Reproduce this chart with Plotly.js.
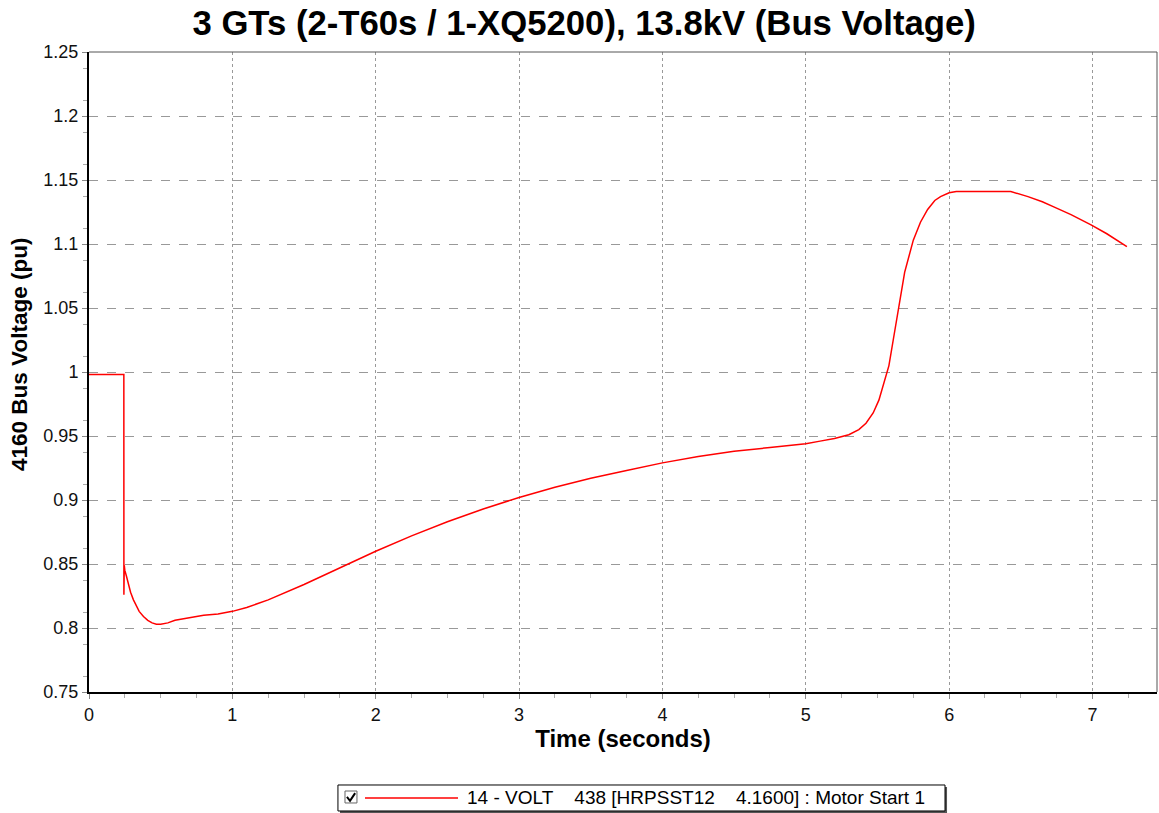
<!DOCTYPE html>
<html><head><meta charset="utf-8">
<script src="https://cdn.plot.ly/plotly-3.0.1.min.js"></script>
<style>body{margin:0;background:#fff}#chart{width:1159px;height:813px}</style>
</head><body><div id="chart"></div>
<script>
const timeSec = [0, 0.243, 0.2435, 0.246, 0.25, 0.26, 0.27, 0.29, 0.31, 0.33, 0.35, 0.38, 0.41, 0.44, 0.47, 0.5, 0.55, 0.6, 0.7, 0.8, 0.9, 1.0, 1.1, 1.25, 1.5, 1.75, 2.0, 2.25, 2.5, 2.75, 3.0, 3.25, 3.5, 3.75, 4.0, 4.25, 4.5, 4.75, 5.0, 5.1, 5.2, 5.3, 5.37, 5.42, 5.47, 5.51, 5.54, 5.58, 5.61, 5.65, 5.69, 5.75, 5.8, 5.85, 5.9, 5.94, 6.0, 6.05, 6.2, 6.35, 6.43, 6.55, 6.65, 6.73, 6.85, 6.99, 7.1, 7.24];
const busVoltage = [0.998, 0.998, 0.826, 0.849, 0.845, 0.841, 0.836, 0.828, 0.822, 0.817, 0.813, 0.809, 0.806, 0.804, 0.803, 0.803, 0.804, 0.806, 0.808, 0.810, 0.811, 0.813, 0.816, 0.822, 0.834, 0.847, 0.860, 0.872, 0.883, 0.893, 0.902, 0.910, 0.917, 0.923, 0.929, 0.934, 0.938, 0.941, 0.944, 0.946, 0.948, 0.951, 0.955, 0.960, 0.968, 0.978, 0.990, 1.005, 1.025, 1.051, 1.078, 1.103, 1.117, 1.127, 1.134, 1.137, 1.140, 1.141, 1.141, 1.141, 1.141, 1.137, 1.133, 1.129, 1.123, 1.115, 1.108, 1.098];
const seriesName = "14 - VOLT\u00a0\u00a0\u00a0\u00a0438 [HRPSST12\u00a0\u00a0\u00a0\u00a04.1600] : Motor Start 1";
const yTicks = [0.75, 0.8, 0.85, 0.9, 0.95, 1, 1.05, 1.1, 1.15, 1.2, 1.25];
const yTickText = ["0.75", "0.8", "0.85", "0.9", "0.95", "1", "1.05", "1.1", "1.15", "1.2", "1.25"];
const xTicks = [0, 1, 2, 3, 4, 5, 6, 7];

const font = "Arial, 'Liberation Sans', sans-serif";
const lineColor = "#ff0000";
Plotly.newPlot("chart", [{
  x: timeSec, y: busVoltage, type: "scatter", mode: "lines", name: seriesName,
  line: {color: lineColor, width: 1.5}, showlegend: false
}], {
  width: 1159, height: 813,
  margin: {l: 89, r: 2, t: 52, b: 121, autoexpand: false},
  paper_bgcolor: "#fff", plot_bgcolor: "#fff",
  font: {family: font, color: "#111"},
  title: {text: "<b>3 GTs (2-T60s / 1-XQ5200), 13.8kV (Bus Voltage)</b>", font: {size: 34.7, family: font, color: "#000"}, x: 0.504, xanchor: "center", y: 0.972, yanchor: "middle"},
  xaxis: {
    range: [0, 7.45], tickvals: xTicks, ticktext: xTicks.map(String),
    showgrid: true, gridcolor: "#999", griddash: "dot", gridwidth: 1,
    showline: true, linecolor: "#000", linewidth: 2,
    ticks: "outside", ticklen: 5, tickcolor: "#888", tickfont: {size: 18},
    minor: {dtick: 0.25, ticks: "outside", ticklen: 4, tickcolor: "#aaa", showgrid: false},
    zeroline: false,
    title: {text: "<b>Time (seconds)</b>", font: {size: 24, color: "#000"}, standoff: 6}
  },
  yaxis: {
    range: [0.75, 1.25], tickvals: yTicks, ticktext: yTickText,
    showgrid: true, gridcolor: "#999", griddash: "dash", gridwidth: 1,
    showline: true, linecolor: "#000", linewidth: 2,
    ticks: "outside", ticklen: 5, tickcolor: "#888", tickfont: {size: 18},
    minor: {tick0: 0.7625, dtick: 0.025, ticks: "outside", ticklen: 4, tickcolor: "#aaa", showgrid: false},
    zeroline: false
  },
  shapes: [
    {type: "line", xref: "paper", yref: "paper", x0: 0, x1: 1, y0: 1, y1: 1, line: {color: "#555", width: 1}},
    {type: "line", xref: "paper", yref: "paper", x0: 1, x1: 1, y0: 0, y1: 1, line: {color: "#555", width: 1}},
    // legend shadow + box
    {type: "rect", xref: "paper", yref: "paper", x0: 0.2350, x1: 0.8034, y0: -0.1890, y1: -0.1484, line: {width: 0}, fillcolor: "#555"},
    {type: "rect", xref: "paper", yref: "paper", x0: 0.2331, x1: 0.8015, y0: -0.1859, y1: -0.1453, line: {color: "#000", width: 1}, fillcolor: "#fff"},
    // checkbox
    {type: "rect", xref: "paper", yref: "paper", x0: 0.2397, x1: 0.2509, y0: -0.1734, y1: -0.1547, line: {color: "#666", width: 1}, fillcolor: "#fff"},
    {type: "path", xref: "paper", yref: "paper", path: "M 0.2415 -0.1640 L 0.2444 -0.1700 L 0.2492 -0.1580", line: {color: "#000", width: 2}},
    // legend line
    {type: "line", xref: "paper", yref: "paper", x0: 0.2584, x1: 0.3455, y0: -0.1656, y1: -0.1656, line: {color: lineColor, width: 1.5}}
  ],
  annotations: [
    {xref: "paper", yref: "paper", x: 0.352, y: -0.1656, text: seriesName, showarrow: false,
     font: {size: 19, color: "#000"}, xanchor: "left", yanchor: "middle"},
    {xref: "paper", yref: "paper", x: -0.0646, y: 0.5266, text: "<b>4160 Bus Voltage (pu)</b>", showarrow: false,
     textangle: -90, font: {size: 22.5, color: "#000"}, xanchor: "center", yanchor: "middle"}
  ]
}, {displayModeBar: false});
</script></body></html>
